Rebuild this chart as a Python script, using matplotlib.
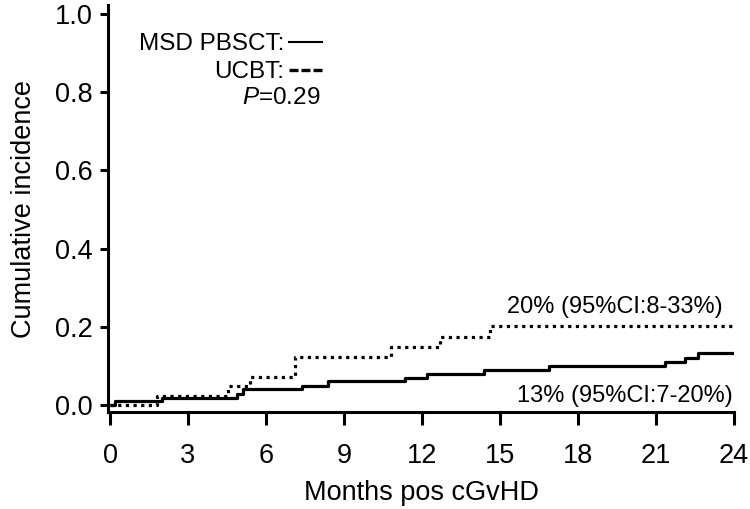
import matplotlib
matplotlib.use("Agg")
import matplotlib.pyplot as plt
from matplotlib.lines import Line2D

plt.rcParams['font.family'] = ['Liberation Sans', 'DejaVu Sans']
plt.rcParams['mathtext.fontset'] = 'custom'
plt.rcParams['mathtext.rm'] = 'Liberation Sans'
plt.rcParams['mathtext.it'] = 'Liberation Sans:italic'

# cumulative incidence, step curves (months, value)
msd_t = [0, 0.2, 2.0, 4.9, 5.1, 7.4, 8.4, 11.35, 12.2, 14.4, 16.9, 21.35, 22.1, 22.6, 24]
msd_ci = [0, 0.009, 0.018, 0.029, 0.040, 0.049, 0.061, 0.068, 0.079, 0.089, 0.099, 0.110, 0.121, 0.134, 0.134]
ucbt_t = [0, 1.8, 4.55, 5.4, 7.1, 10.8, 12.7, 14.6, 24]
ucbt_ci = [0, 0.024, 0.049, 0.072, 0.122, 0.148, 0.175, 0.201, 0.201]

xticks = [0, 3, 6, 9, 12, 15, 18, 21, 24]
yticks = [0.0, 0.2, 0.4, 0.6, 0.8, 1.0]

fig = plt.figure(figsize=(7.5, 5.09), dpi=100)
ax = fig.add_axes([108/750, 1 - 412/509, (734 - 108)/750, (412 - 5)/509])

ax.plot(msd_t, msd_ci, drawstyle='steps-post', color='black', lw=2.3, solid_capstyle='butt')
ax.plot(ucbt_t, ucbt_ci, drawstyle='steps-post', color='black', lw=2.3,
        linestyle=(0, (1, 1.4)))

ax.set_xlim(-0.077, 24.0)
ax.set_ylim(-0.018, 1.023)
ax.set_xticks(xticks)
ax.set_yticks(yticks)
ax.set_yticklabels([f"{v:.1f}" for v in yticks])

for side in ['top', 'right']:
    ax.spines[side].set_visible(False)
for side in ['left', 'bottom']:
    ax.spines[side].set_linewidth(2.2)

ax.tick_params(axis='y', length=6, width=2.2, pad=5, labelsize=19.5)
ax.tick_params(axis='x', length=9, width=2.2, pad=13, labelsize=19.5)

ax.set_xlabel('Months pos cGvHD', fontsize=19.5, labelpad=8)
ax.set_ylabel('Cumulative incidence', fontsize=19.5, labelpad=13)

handles = [Line2D([], [], color='black', lw=1.5),
           Line2D([], [], color='black', lw=2.4, linestyle=(0, (2.7, 0.9)))]
ax.legend(handles, ['MSD PBSCT:', 'UCBT:'], markerfirst=False, frameon=False,
          fontsize=17.5, handlelength=1.36, handletextpad=0.18, labelspacing=0.26,
          borderpad=0, borderaxespad=0, loc='upper right',
          bbox_to_anchor=(322/750, 1 - 33/509), bbox_transform=fig.transFigure)

fig.text(320/750, 1 - 98/509, r'$\it{P}$=0.29', ha='right', va='center', fontsize=17.5)

ax.text(23.55, 0.235, '20% (95%CI:8-33%)', ha='right', va='baseline', fontsize=17)
ax.text(23.97, 0.008, '13% (95%CI:7-20%)', ha='right', va='baseline', fontsize=17)

fig.savefig('out.png', dpi=100)
